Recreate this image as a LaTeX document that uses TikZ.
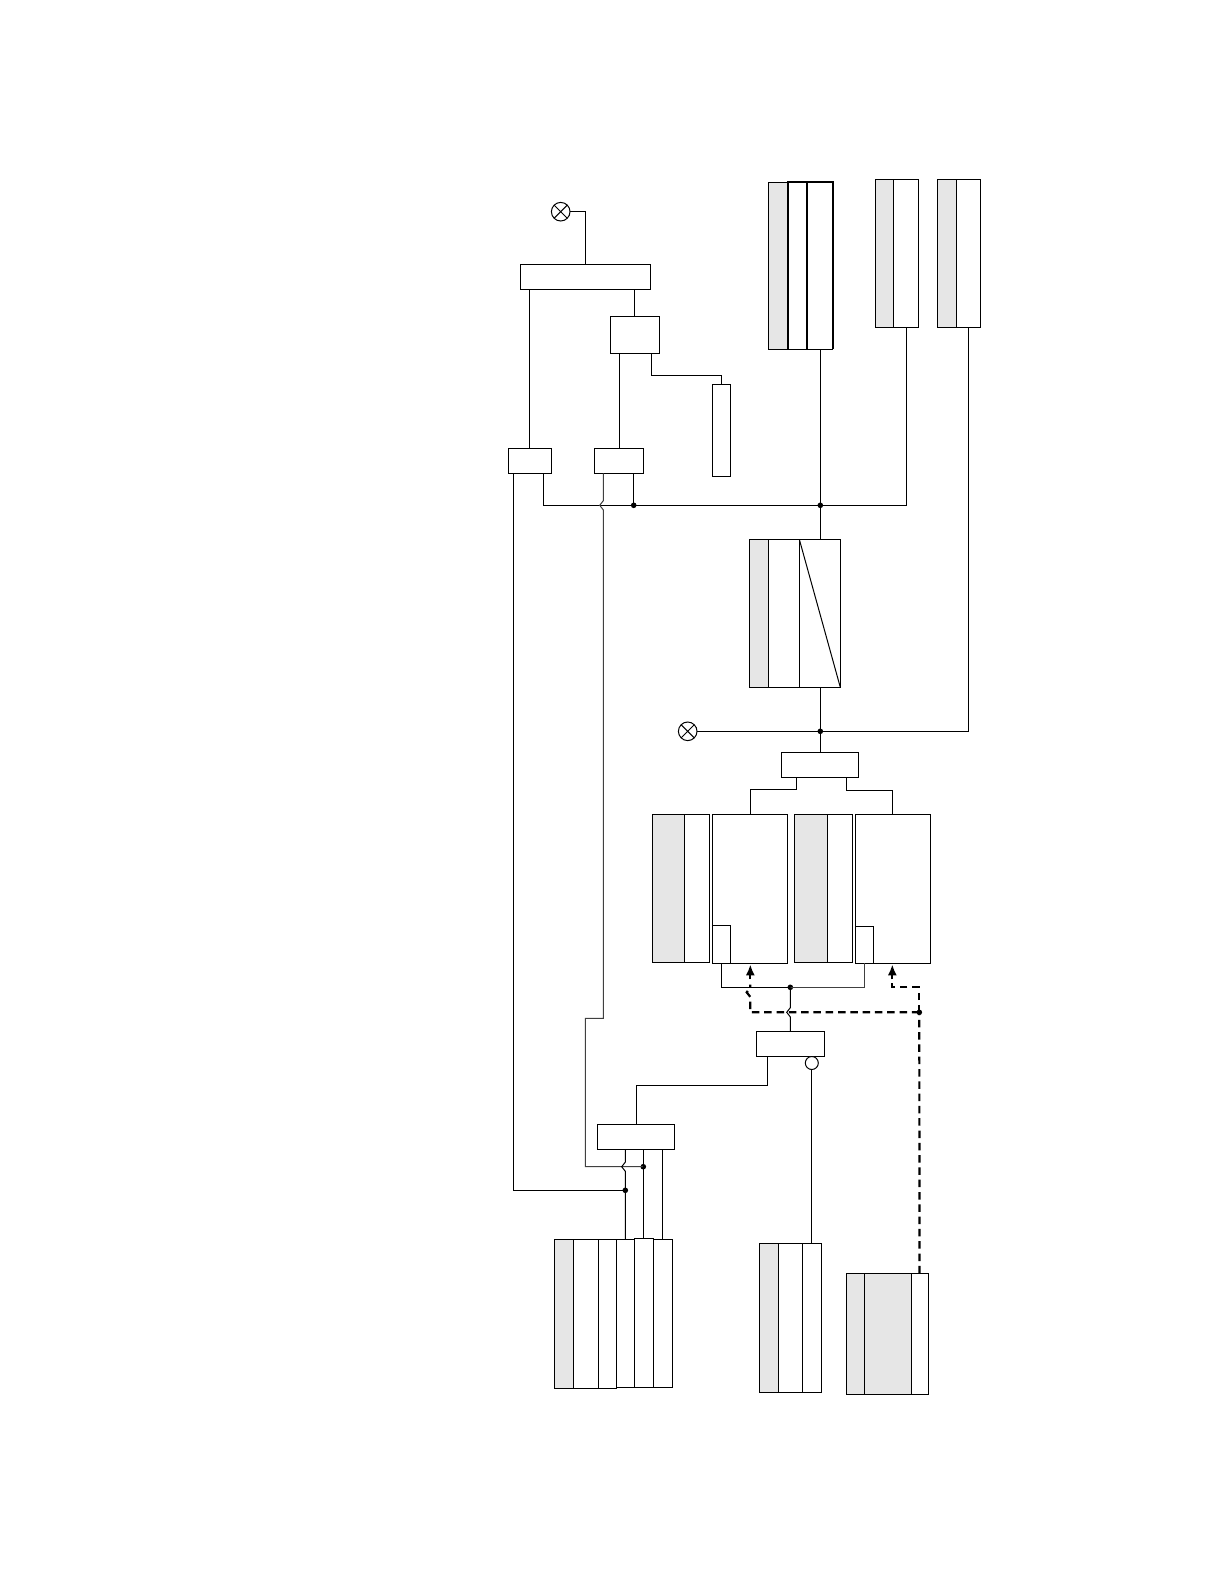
\documentclass[tikz,border=0pt]{standalone}
\usetikzlibrary{arrows.meta}
\definecolor{panel}{HTML}{E6E6E6}
\definecolor{softwire}{HTML}{404040}
\tikzset{
  cellbox/.style={draw=black,line width=1pt,rectangle,inner sep=0pt,outer sep=0pt,fill=white},
  shaded/.style={fill=panel},
  heavy/.style={draw=black,line width=1.7pt},
  wire/.style={draw=black,line width=1pt,line join=miter},
  softw/.style={draw=softwire,line width=1pt},
  dashw/.style={draw=black,line width=2.2pt,dash pattern=on 7.5pt off 4.8pt},
  tipw/.style={draw=black,line width=2.2pt,-{Latex[length=11pt,width=9pt]}},
  lamp/.style={draw=black,line width=1pt,circle,minimum size=18.6pt,inner sep=0pt,outer sep=0pt,fill=white},
  inv/.style={draw=black,line width=1pt,circle,minimum size=13pt,inner sep=0pt,outer sep=0pt,fill=white},
  joint/.style={circle,fill=black,minimum size=5.6pt,inner sep=0pt,outer sep=0pt}
}
% \bx[style]{name}{x0}{y0}{x1}{y1}
\newcommand{\bx}[6][]{%
  \pgfmathsetmacro\myw{#5-#3}\pgfmathsetmacro\myh{#6-#4}%
  \pgfmathsetmacro\mycx{(#3+#5)/2}\pgfmathsetmacro\mycy{(#4+#6)/2}%
  \node[cellbox,#1,minimum width=\myw pt,minimum height=\myh pt] (#2) at (\mycx,\mycy) {};%
}
\begin{document}
\begin{tikzpicture}[x=1pt,y=-1pt]
\useasboundingbox (0,0) rectangle (1224,1584);
% top-left group
\bx{A}{520.3}{264.3}{650.3}{289.3}
\bx{B}{610.3}{316.3}{659.3}{353.3}
\bx{C}{712.3}{384.3}{730.3}{476.3}
\bx{D}{508.3}{448.3}{551.7}{473.3}
\bx{E}{594.3}{448.3}{643.7}{473.3}
% top-right columns
\bx[shaded]{F1}{768.3}{182.3}{787.7}{349.3}
\bx{F2}{787.7}{182.3}{807.3}{349.3}
\bx{F3}{807.3}{182.3}{832.7}{349.3}
\draw[heavy] (F2.south west) -- (F2.north west) -- (F3.north east) -- (F3.south east) (F2.north east) -- (F2.south east);
\bx[shaded]{G1}{875.3}{179.3}{893.3}{327.3}
\bx{G2}{893.3}{179.3}{918.3}{327.3}
\bx[shaded]{H1}{937.3}{179.3}{956.3}{327.3}
\bx{H2}{956.3}{179.3}{980.3}{327.3}
% middle
\bx[shaded]{I1}{749.3}{539.3}{768.3}{687.3}
\bx{I2}{768.3}{539.3}{799.3}{687.3}
\bx{I3}{799.3}{539.3}{840.3}{687.3}
\draw[wire] (I3.north west) -- (I3.south east);
\bx{J}{781.3}{752.3}{858.3}{777.3}
% four columns
\bx[shaded]{K1}{652.3}{814.3}{684.3}{962.3}
\bx{K2}{684.3}{814.3}{709.7}{962.3}
\bx{L}{712.3}{814.3}{787.3}{963.3}
\bx{Li}{712.3}{925.3}{730.3}{963.3}
\bx[shaded]{M1}{794.3}{814.3}{827.3}{962.3}
\bx{M2}{827.3}{814.3}{852.3}{962.3}
\bx{N}{855.3}{814.3}{930.3}{963.3}
\bx{Ni}{855.3}{926.3}{873.3}{963.3}
% lower boxes
\bx{O}{756.3}{1031.3}{824.3}{1056.3}
\bx{P}{597.3}{1124.3}{674.3}{1149.3}
\bx[shaded]{Q1}{554.3}{1239.3}{573.3}{1388.3}
\bx{Q2}{573.3}{1239.3}{598.3}{1388.3}
\bx{Q3}{598.3}{1239.3}{616.3}{1388.3}
\bx{Q4}{616.3}{1239.3}{634.3}{1387.3}
\bx{Q6}{653.3}{1239.3}{672.3}{1387.3}
\bx{Q5}{634.3}{1238.3}{653.3}{1387.3}
\bx[shaded]{R1}{759.3}{1243.3}{778.3}{1392.3}
\bx{R2}{778.3}{1243.3}{802.3}{1392.3}
\bx{R3}{802.3}{1243.3}{821.3}{1392.3}
\bx[shaded]{S1}{846.3}{1273.3}{864.3}{1394.3}
\bx[shaded]{S2}{864.3}{1273.3}{911.3}{1394.3}
\bx{S3}{911.3}{1273.3}{928.3}{1394.3}
% lamps
\node[lamp] (lampa) at (560.7,211.7) {};
\draw[wire] (lampa.north west) -- (lampa.south east) (lampa.north east) -- (lampa.south west);
\node[lamp] (lampb) at (687.7,731.3) {};
\draw[wire] (lampb.north west) -- (lampb.south east) (lampb.north east) -- (lampb.south west);
\node[inv] (invo) at (811.8,1063) {};
% junctions
\node[joint] (j0) at (633.7,505.3) {};
\node[joint] (j1) at (820.3,505.3) {};
\node[joint] (j2) at (820.3,731.3) {};
\node[joint] (j3) at (790.3,987.3) {};
\node[joint] (j4) at (919.3,1012.3) {};
\node[joint] (j5) at (643.3,1166.7) {};
\node[joint] (j6) at (625.3,1190.3) {};
\coordinate (bendE) at (585.3,1018.3);
\coordinate (cornerL) at (750.3,1012.3);
% top-left connectors
\draw[wire] (lampa.east) -| (A.north);
\draw[wire] ([xshift=-56pt]A.south) -- ([xshift=-.7pt]D.north);
\draw[wire] ([xshift=49pt]A.south) -- ([xshift=-.5pt]B.north);
\draw[wire] ([xshift=-15.5pt]B.south) -- ([xshift=.3pt]E.north);
\draw[wire] ([xshift=16.9pt]B.south) -- ++(0,22) -| (C.north);
% bus at y=505
\draw[wire] ([xshift=13.3pt]D.south) |- (j0.center) -- (j1.center) -| ([xshift=.5pt]G2.south);
\draw[wire] ([xshift=14.7pt]E.south) -- (j0.center);
\draw[wire] ([xshift=.3pt]F3.south) -- (j1.center) -- ([xshift=.5pt]I3.north);
\draw[wire] ([xshift=.5pt]I3.south) -- (j2.center) -- ([xshift=.5pt]J.north);
\draw[wire] (lampb.east) -- (j2.center) -| (H2.south);
% long left wires
\draw[wire] ([xshift=-16.7pt]D.south) |- (j6.center);
\draw[softw] ([xshift=-15.7pt]E.south) -- ++(0,27.4)
  .. controls +(0,2.5) and +(0,-2.5) .. ++(-3.6,4.6)
  .. controls +(0,2.5) and +(0,-2.5) .. ++(3.6,4.6)
  |- (bendE) |- (j5.center);
% split from J
\draw[wire] ([xshift=-23.5pt]J.south) -- ++(0,12) -| ([xshift=.5pt]L.north);
\draw[wire] ([xshift=26.5pt]J.south) -- ++(0,13) -| ([xshift=-.5pt]N.north);
% below the columns
\draw[wire] (Li.south) |- (j3.center);
\draw[softw] (j3.center) -| (Ni.south);
\draw[wire] (O.north) -- ++(0,-14.4)
  .. controls +(0,-2.5) and +(0,2.5) .. ++(-3.6,-4.6)
  .. controls +(0,-2.5) and +(0,2.5) .. ++(3.6,-4.6)
  -- (j3.center);
\draw[wire] ([xshift=-23pt]O.south) -- ++(0,29) -| ([xshift=.5pt]P.north);
\draw[wire] (invo.south) -- (R3.north);
% P to Q
\draw[wire] ([xshift=-10.5pt]P.south) -- ++(0,12.8)
  .. controls +(0,2.5) and +(0,-2.5) .. ++(-3.6,4.6)
  .. controls +(0,2.5) and +(0,-2.5) .. ++(3.6,4.6)
  -- (Q4.north);
\draw[wire] ([xshift=7.5pt]P.south) -- (j5.center) -- ([xshift=-.5pt]Q5.north);
\draw[wire] ([xshift=26.5pt]P.south) -- ([xshift=-.5pt]Q6.north);
% dashed control lines
\draw[dashw] ([xshift=-.3pt]S3.north) -- (j4.center);
\draw[dashw] (j4.center) -- (cornerL) -- ++(0,-15.4)
  .. controls +(0,-2.5) and +(0,2.5) .. ++(-3.6,-4.6)
  .. controls +(0,-2.5) and +(0,2.5) .. ++(3.6,-4.6)
  -- ++(0,-3);
\draw[tipw] ([xshift=.5pt,yshift=-16pt]L.south) -- ([xshift=.5pt,yshift=-1pt]L.south);
\draw[dashw] (j4.center) -- ++(0,-25) -| ([xshift=-.5pt,yshift=-20pt]N.south);
\draw[tipw] ([xshift=-.5pt,yshift=-16pt]N.south) -- ([xshift=-.5pt,yshift=-1pt]N.south);
\end{tikzpicture}
\end{document}
